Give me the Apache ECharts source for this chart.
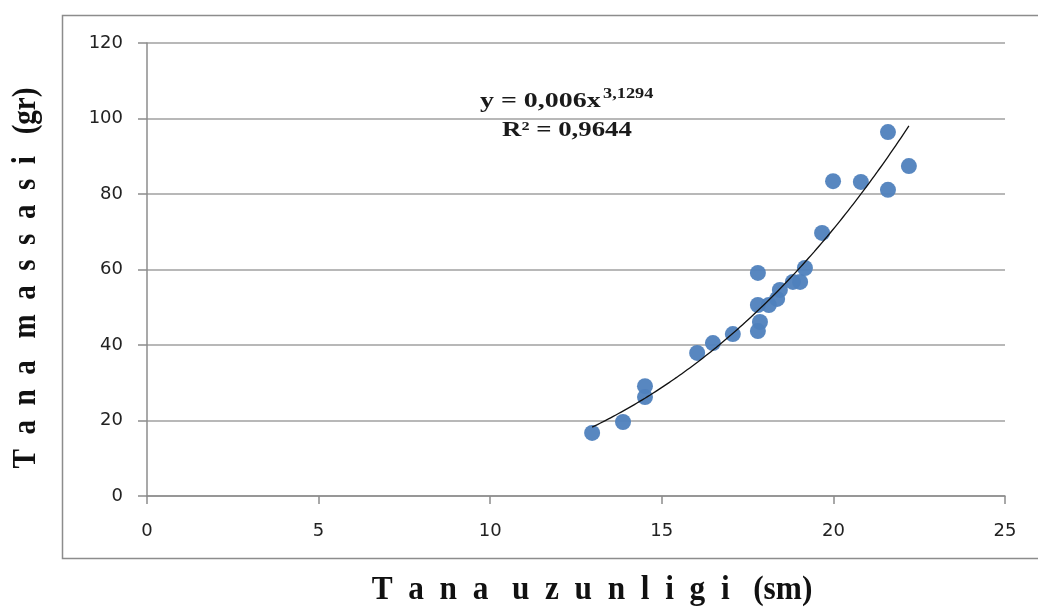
<!DOCTYPE html>
<html>
<head>
<meta charset="utf-8">
<script src="https://cdn.jsdelivr.net/npm/echarts@6/dist/echarts.min.js"></script>
<style>html,body{margin:0;padding:0;background:#fff}#c{width:1038px;height:610px}</style>
</head>
<body>
<div id="c"></div>
<script>
// Scatter data: body length (sm) and body mass (gr)
var lengths = [12.97, 13.87, 14.51, 14.51, 16.03, 16.49, 17.07, 17.80, 17.80, 17.86, 17.80, 18.12, 18.36, 18.44, 18.82, 19.03, 19.17, 19.67, 19.99, 20.80, 21.59, 21.59, 22.20];
var masses  = [16.7, 19.6, 29.1, 26.2, 37.9, 40.5, 42.9, 59.1, 50.6, 46.1, 43.7, 50.6, 52.2, 54.6, 56.7, 56.7, 60.4, 69.7, 83.4, 83.2, 96.4, 81.1, 87.4];
// Trendline as printed on the chart: y = 0,006 x^3,1294 over the data range
var trendCoef = [0.006];
var trendExp = [3.1294];
var trendRange = [12.97, 22.2];
var xTicks = [0, 5, 10, 15, 20, 25];
var yTicks = [0, 20, 40, 60, 80, 100, 120];
var xTitle = 'T  a  n  a   u  z  u  n  l  i  g  i   (sm)';
var yTitle = 'T  a  n  a   m  a  s  s  a  s  i   (gr)';
var eqMain = 'y = 0,006x';
var eqExp = '3,1294';
var eqR2 = 'R² = 0,9644';

var pts = lengths.map(function (x, i) { return [x, masses[i]]; });
var trend = [];
var steps = 60;
for (var i = 0; i <= steps; i++) {
  var x = trendRange[0] + (trendRange[1] - trendRange[0]) * i / steps;
  trend.push([x, trendCoef[0] * Math.pow(x, trendExp[0])]);
}

var titleFont = 'bold 33px "Liberation Serif"';
var chart = echarts.init(document.getElementById('c'), null, {renderer: 'canvas'});
chart.setOption({
  animation: false,
  backgroundColor: '#fff',
  grid: {left: 147, right: 33, top: 43, bottom: 114},
  graphic: [
    {type: 'rect', shape: {x: 62.5, y: 15.5, width: 1000, height: 543}, style: {fill: 'none', stroke: '#8c8c8c', lineWidth: 1.5}, z: -1},
    {type: 'text', x: 480, y: 101, scaleX: 1.27, style: {text: eqMain, font: 'bold 22px "Liberation Serif"', fill: '#1a1a1a', align: 'left', verticalAlign: 'middle'}},
    {type: 'text', x: 603, y: 94, scaleX: 1.22, style: {text: eqExp, font: 'bold 15px "Liberation Serif"', fill: '#1a1a1a', align: 'left', verticalAlign: 'middle'}},
    {type: 'text', x: 502, y: 130, scaleX: 1.22, style: {text: eqR2, font: 'bold 22px "Liberation Serif"', fill: '#1a1a1a', align: 'left', verticalAlign: 'middle'}},
    {type: 'text', x: 592, y: 590, scaleX: 0.95, style: {text: xTitle, font: titleFont, fill: '#111', align: 'center', verticalAlign: 'middle'}},
    {type: 'text', x: 26, y: 278, rotation: Math.PI / 2, scaleX: 0.88, style: {text: yTitle, font: titleFont, fill: '#111', align: 'center', verticalAlign: 'middle'}}
  ],
  xAxis: {
    type: 'value', min: 0, max: 25, interval: 5,
    axisLine: {show: true, onZero: false, lineStyle: {color: '#8c8c8c', width: 1.5}},
    axisTick: {show: true, length: 8, lineStyle: {color: '#8c8c8c', width: 1.5}},
    axisLabel: {fontFamily: 'DejaVu Sans', fontSize: 18, color: '#222', margin: 26,
      formatter: function (v) { return xTicks.indexOf(v) >= 0 ? String(v) : ''; }},
    splitLine: {show: false}
  },
  yAxis: {
    type: 'value', min: 0, max: 120, interval: 20,
    axisLine: {show: true, lineStyle: {color: '#8c8c8c', width: 1.5}},
    axisTick: {show: true, length: 9, lineStyle: {color: '#8c8c8c', width: 1.5}},
    axisLabel: {fontFamily: 'DejaVu Sans', fontSize: 18, color: '#222', margin: 24,
      formatter: function (v) { return yTicks.indexOf(v) >= 0 ? String(v) : ''; }},
    splitLine: {show: true, lineStyle: {color: '#a0a0a0', width: 1.5}}
  },
  series: [
    {type: 'scatter', data: pts, symbolSize: 16, itemStyle: {color: '#4f81bd', opacity: 0.95}, z: 2},
    {type: 'line', data: trend, showSymbol: false, smooth: true, lineStyle: {color: '#111', width: 1.3}, z: 3}
  ]
});
</script>
</body>
</html>
